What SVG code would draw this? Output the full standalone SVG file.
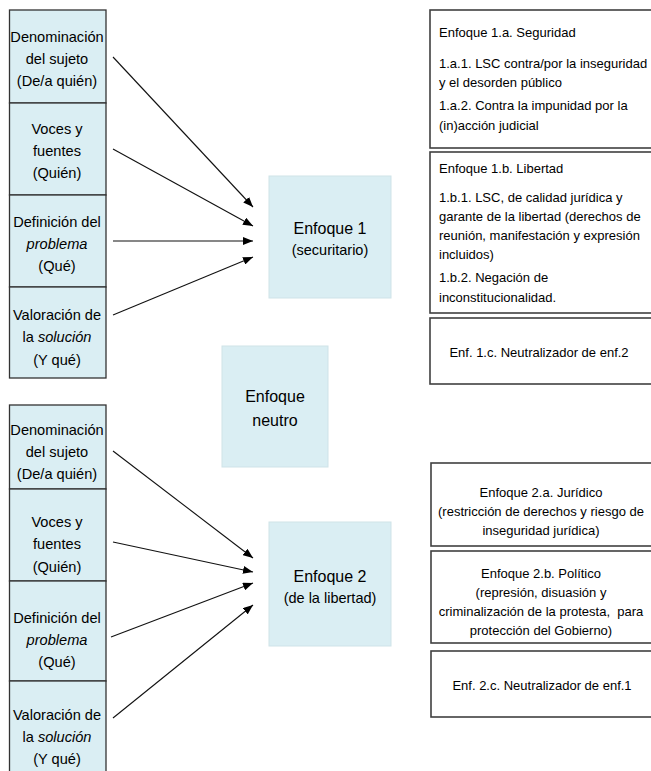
<svg xmlns="http://www.w3.org/2000/svg" width="651" height="771" viewBox="0 0 651 771">
<defs>
<marker id="ah" viewBox="0 0 10 8" refX="10" refY="4" markerWidth="10" markerHeight="8" markerUnits="userSpaceOnUse" orient="auto">
<path d="M0,0 L10,4 L0,8 z" fill="#000"/>
</marker>
</defs>
<style>
text{font-family:"Liberation Sans",Arial,sans-serif;fill:#000}
.lb{fill:#daeef3;stroke:#333;stroke-width:1.3}
.cb{fill:#daeef3;stroke:#cfe3e8;stroke-width:1}
.rb{fill:#fff;stroke:#404040;stroke-width:1.6}
.lt{font-size:14.6px;text-anchor:middle}
.ct{font-size:16px;text-anchor:middle}
.cs{font-size:14.5px;text-anchor:middle}
.rt{font-size:13px}
.rc{font-size:13px;text-anchor:middle}
.conn line{stroke:#111;stroke-width:1.1;marker-end:url(#ah)}
</style>
<rect width="651" height="771" fill="#fff"/>

<g id="top-sujeto">
<rect class="lb" x="9.5" y="10" width="96.5" height="93"/>
<text class="lt" x="57" y="42">Denominación</text>
<text class="lt" x="57" y="64">del sujeto</text>
<text class="lt" x="57" y="86">(De/a quién)</text>
</g>
<g id="top-voces">
<rect class="lb" x="9.5" y="103" width="96.5" height="92"/>
<text class="lt" x="57" y="134">Voces y</text>
<text class="lt" x="57" y="156">fuentes</text>
<text class="lt" x="57" y="178">(Quién)</text>
</g>
<g id="top-problema">
<rect class="lb" x="9.5" y="195" width="96.5" height="92"/>
<text class="lt" x="57" y="227">Definición del</text>
<text class="lt" x="57" y="249" font-style="italic">problema</text>
<text class="lt" x="57" y="271">(Qué)</text>
</g>
<g id="top-solucion">
<rect class="lb" x="9.5" y="287" width="96.5" height="91"/>
<text class="lt" x="57" y="320">Valoración de</text>
<text class="lt" x="57" y="342">la <tspan font-style="italic">solución</tspan></text>
<text class="lt" x="57" y="365">(Y qué)</text>
</g>

<g id="bot-sujeto">
<rect class="lb" x="9.5" y="405" width="96.5" height="84"/>
<text class="lt" x="57" y="435">Denominación</text>
<text class="lt" x="57" y="457">del sujeto</text>
<text class="lt" x="57" y="479">(De/a quién)</text>
</g>
<g id="bot-voces">
<rect class="lb" x="9.5" y="489" width="96.5" height="92"/>
<text class="lt" x="57" y="527">Voces y</text>
<text class="lt" x="57" y="549">fuentes</text>
<text class="lt" x="57" y="572">(Quién)</text>
</g>
<g id="bot-problema">
<rect class="lb" x="9.5" y="581" width="96.5" height="100"/>
<text class="lt" x="57" y="623">Definición del</text>
<text class="lt" x="57" y="645" font-style="italic">problema</text>
<text class="lt" x="57" y="667">(Qué)</text>
</g>
<g id="bot-solucion">
<rect class="lb" x="9.5" y="681" width="96.5" height="95"/>
<text class="lt" x="57" y="720">Valoración de</text>
<text class="lt" x="57" y="742">la <tspan font-style="italic">solución</tspan></text>
<text class="lt" x="57" y="764">(Y qué)</text>
</g>

<g id="enfoque1">
<rect class="cb" x="269" y="176" width="122" height="122"/>
<text class="ct" x="330" y="234">Enfoque 1</text>
<text class="cs" x="330" y="255">(securitario)</text>
</g>
<g id="enfoque-neutro">
<rect class="cb" x="222" y="346" width="106" height="121"/>
<text class="ct" x="275" y="402">Enfoque</text>
<text class="ct" x="275" y="426">neutro</text>
</g>
<g id="enfoque2">
<rect class="cb" x="269" y="522" width="122" height="124"/>
<text class="ct" x="330" y="582">Enfoque 2</text>
<text class="cs" x="330" y="603">(de la libertad)</text>
</g>

<g id="enf-1a">
<rect class="rb" x="430" y="10" width="240" height="138"/>
<text class="rt" x="439" y="37">Enfoque 1.a. Seguridad</text>
<text class="rt" x="439" y="68">1.a.1. LSC contra/por la inseguridad</text>
<text class="rt" x="439" y="87">y el desorden público</text>
<text class="rt" x="439" y="110">1.a.2. Contra la impunidad por la</text>
<text class="rt" x="439" y="130">(in)acción judicial</text>
</g>
<g id="enf-1b">
<rect class="rb" x="430" y="152" width="240" height="161"/>
<text class="rt" x="439" y="173">Enfoque 1.b. Libertad</text>
<text class="rt" x="439" y="202">1.b.1. LSC, de calidad jurídica y</text>
<text class="rt" x="439" y="221">garante de la libertad (derechos de</text>
<text class="rt" x="439" y="240">reunión, manifestación y expresión</text>
<text class="rt" x="439" y="259">incluidos)</text>
<text class="rt" x="439" y="282">1.b.2. Negación de</text>
<text class="rt" x="439" y="302">inconstitucionalidad.</text>
</g>
<g id="enf-1c">
<rect class="rb" x="430" y="318" width="240" height="66"/>
<text class="rc" x="539" y="357">Enf. 1.c. Neutralizador de enf.2</text>
</g>

<g id="enf-2a">
<rect class="rb" x="431" y="463" width="240" height="83"/>
<text class="rc" x="541" y="497">Enfoque 2.a. Jurídico</text>
<text class="rc" x="541" y="516">(restricción de derechos y riesgo de</text>
<text class="rc" x="541" y="535">inseguridad jurídica)</text>
</g>
<g id="enf-2b">
<rect class="rb" x="431" y="551" width="240" height="92"/>
<text class="rc" x="541" y="578">Enfoque 2.b. Político</text>
<text class="rc" x="541" y="597">(represión, disuasión y</text>
<text class="rc" x="541" y="616" xml:space="preserve">criminalización de la protesta,  para</text>
<text class="rc" x="541" y="635">protección del Gobierno)</text>
</g>
<g id="enf-2c">
<rect class="rb" x="431" y="651" width="240" height="66"/>
<text class="rc" x="542" y="690">Enf. 2.c. Neutralizador de enf.1</text>
</g>

<g id="connectors" class="conn">
<line x1="113" y1="57" x2="253" y2="207"/>
<line x1="113" y1="149" x2="253" y2="226"/>
<line x1="113" y1="241" x2="253" y2="241"/>
<line x1="113" y1="315" x2="253" y2="257"/>
<line x1="113" y1="451" x2="253" y2="558"/>
<line x1="113" y1="542" x2="253" y2="572"/>
<line x1="111" y1="637" x2="253" y2="583"/>
<line x1="113" y1="718" x2="253" y2="605"/>
</g>
</svg>
